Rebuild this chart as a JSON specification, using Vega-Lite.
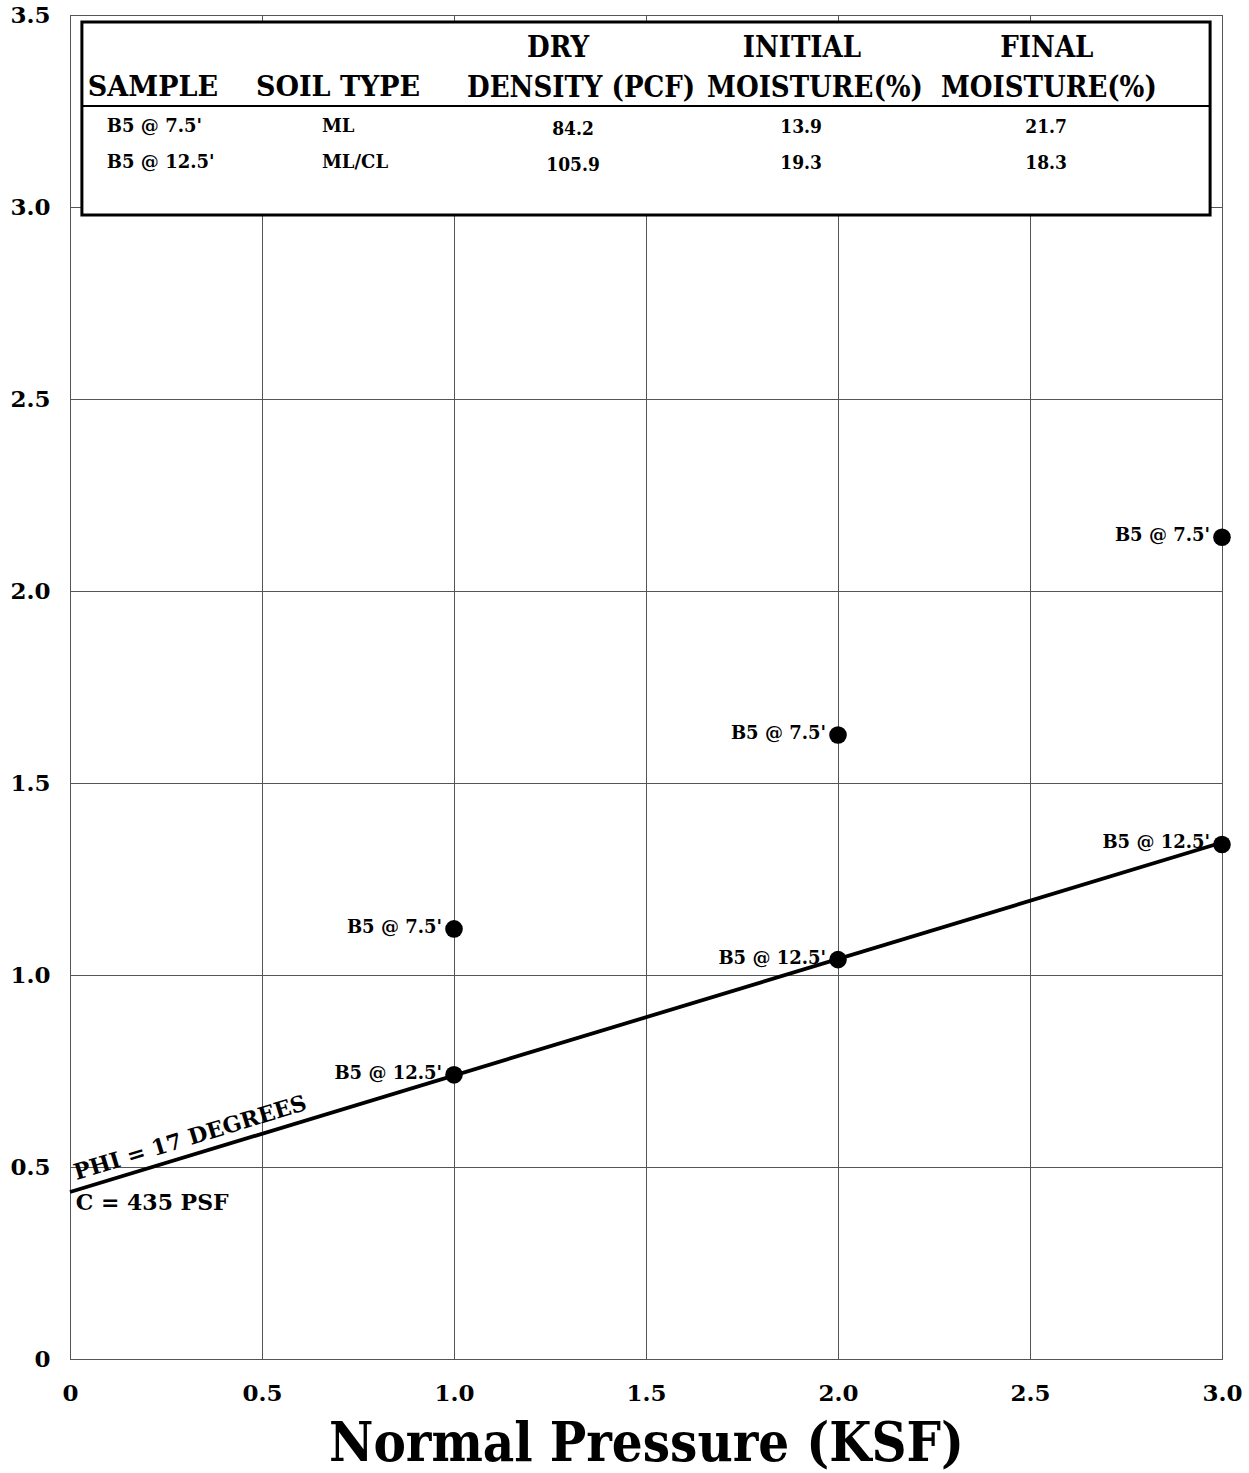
{
  "$schema": "https://vega.github.io/schema/vega-lite/v6.json",
  "width": 1152,
  "height": 1344,
  "autosize": {"type": "none"},
  "padding": {"left": 70, "top": 15, "right": 27, "bottom": 114},
  "background": "white",
  "config": {
    "view": {"stroke": "#555555", "strokeWidth": 1},
    "font": "DejaVu Serif",
    "axis": {
      "domainColor": "#555555",
      "gridColor": "#555555",
      "gridWidth": 1,
      "gridOpacity": 1,
      "ticks": false,
      "labelFont": "DejaVu Serif",
      "labelFontWeight": "bold",
      "labelFontSize": 23,
      "labelColor": "black",
      "labelFlush": false
    }
  },
  "datasets": {
    "points": [
      {"pressure": 1, "shear": 1.12, "sample": "B5 @ 7.5'"},
      {"pressure": 1, "shear": 0.74, "sample": "B5 @ 12.5'"},
      {"pressure": 2, "shear": 1.625, "sample": "B5 @ 7.5'"},
      {"pressure": 2, "shear": 1.04, "sample": "B5 @ 12.5'"},
      {"pressure": 3, "shear": 2.14, "sample": "B5 @ 7.5'"},
      {"pressure": 3, "shear": 1.34, "sample": "B5 @ 12.5'"}
    ],
    "fit": [
      {"pressure": 0, "shear": 0.435},
      {"pressure": 3, "shear": 1.345}
    ],
    "table": [
      {"sample": "B5 @ 7.5'", "soil": "ML", "density": "84.2", "initial": "13.9", "final": "21.7"},
      {"sample": "B5 @ 12.5'", "soil": "ML/CL", "density": "105.9", "initial": "19.3", "final": "18.3"}
    ],
    "one": [{}]
  },
  "layer": [
    {
      "data": {"name": "points"},
      "mark": {"type": "point", "opacity": 0},
      "encoding": {
        "x": {
          "field": "pressure", "type": "quantitative",
          "scale": {"domain": [0, 3], "nice": false, "zero": false},
          "axis": {
            "values": [0, 0.5, 1, 1.5, 2, 2.5, 3],
            "labelExpr": "datum.value == 0 ? '0' : format(datum.value, '.1f')",
            "labelPadding": 23,
            "title": "Normal Pressure (KSF)",
            "titleFont": "DejaVu Serif Condensed, DejaVu Serif",
            "titleFontWeight": "bold",
            "titleFontSize": 54,
            "titleColor": "black",
            "titlePadding": 12
          }
        },
        "y": {
          "field": "shear", "type": "quantitative",
          "scale": {"domain": [0, 3.5], "nice": false, "zero": false},
          "axis": {
            "values": [0, 0.5, 1, 1.5, 2, 2.5, 3, 3.5],
            "labelExpr": "datum.value == 0 ? '0' : format(datum.value, '.1f')",
            "labelPadding": 20,
            "title": null
          }
        }
      }
    },
    {
      "data": {"name": "fit"},
      "mark": {"type": "line", "color": "black", "strokeWidth": 3.8},
      "encoding": {
        "x": {"field": "pressure", "type": "quantitative"},
        "y": {"field": "shear", "type": "quantitative"}
      }
    },
    {
      "data": {"name": "points"},
      "mark": {"type": "point", "filled": true, "color": "black", "opacity": 1, "size": 310, "shape": "circle"},
      "encoding": {
        "x": {"field": "pressure", "type": "quantitative"},
        "y": {"field": "shear", "type": "quantitative"}
      }
    },
    {
      "data": {"name": "points"},
      "mark": {"type": "text", "align": "right", "baseline": "middle", "dx": -12, "dy": -1, "font": "DejaVu Serif", "fontWeight": "bold", "fontSize": 18, "color": "black"},
      "encoding": {
        "x": {"field": "pressure", "type": "quantitative"},
        "y": {"field": "shear", "type": "quantitative"},
        "text": {"field": "sample"}
      }
    },
    {
      "data": {"name": "one"},
      "mark": {"type": "text", "text": "PHI = 17 DEGREES", "align": "left", "baseline": "alphabetic", "angle": -17, "font": "DejaVu Serif", "fontWeight": "bold", "fontSize": 22, "color": "black"},
      "encoding": {"x": {"datum": 0.017}, "y": {"datum": 0.466}}
    },
    {
      "data": {"name": "one"},
      "mark": {"type": "text", "text": "C = 435 PSF", "align": "left", "baseline": "middle", "font": "DejaVu Serif", "fontWeight": "bold", "fontSize": 22, "color": "black"},
      "encoding": {"x": {"datum": 0.015}, "y": {"datum": 0.406}}
    },
    {
      "data": {"name": "one"},
      "mark": {"type": "rect", "fill": "white", "stroke": "black", "strokeWidth": 3},
      "encoding": {"x": {"datum": 0.031}, "x2": {"datum": 2.969}, "y": {"datum": 2.979}, "y2": {"datum": 3.482}}
    },
    {
      "data": {"name": "one"},
      "mark": {"type": "rule", "color": "black", "strokeWidth": 2},
      "encoding": {"x": {"datum": 0.031}, "x2": {"datum": 2.969}, "y": {"datum": 3.263}}
    },
    {
      "data": {"name": "one"},
      "mark": {"type": "text", "text": "SAMPLE", "align": "center", "baseline": "middle", "font": "DejaVu Serif", "fontWeight": "bold", "fontSize": 27, "color": "black"},
      "encoding": {"x": {"datum": 0.216}, "y": {"datum": 3.31}}
    },
    {
      "data": {"name": "one"},
      "mark": {"type": "text", "text": "SOIL TYPE", "align": "center", "baseline": "middle", "font": "DejaVu Serif", "fontWeight": "bold", "fontSize": 27, "color": "black"},
      "encoding": {"x": {"datum": 0.698}, "y": {"datum": 3.31}}
    },
    {
      "data": {"name": "one"},
      "mark": {"type": "text", "text": "DRY", "align": "center", "baseline": "middle", "font": "DejaVu Serif Condensed, DejaVu Serif", "fontWeight": "bold", "fontSize": 29, "color": "black"},
      "encoding": {"x": {"datum": 1.271}, "y": {"datum": 3.414}}
    },
    {
      "data": {"name": "one"},
      "mark": {"type": "text", "text": "DENSITY (PCF)", "align": "center", "baseline": "middle", "font": "DejaVu Serif Condensed, DejaVu Serif", "fontWeight": "bold", "fontSize": 29, "color": "black"},
      "encoding": {"x": {"datum": 1.331}, "y": {"datum": 3.31}}
    },
    {
      "data": {"name": "one"},
      "mark": {"type": "text", "text": "INITIAL", "align": "center", "baseline": "middle", "font": "DejaVu Serif Condensed, DejaVu Serif", "fontWeight": "bold", "fontSize": 29, "color": "black"},
      "encoding": {"x": {"datum": 1.906}, "y": {"datum": 3.414}}
    },
    {
      "data": {"name": "one"},
      "mark": {"type": "text", "text": "MOISTURE(%)", "align": "center", "baseline": "middle", "font": "DejaVu Serif Condensed, DejaVu Serif", "fontWeight": "bold", "fontSize": 29, "color": "black"},
      "encoding": {"x": {"datum": 1.94}, "y": {"datum": 3.31}}
    },
    {
      "data": {"name": "one"},
      "mark": {"type": "text", "text": "FINAL", "align": "center", "baseline": "middle", "font": "DejaVu Serif Condensed, DejaVu Serif", "fontWeight": "bold", "fontSize": 29, "color": "black"},
      "encoding": {"x": {"datum": 2.544}, "y": {"datum": 3.414}}
    },
    {
      "data": {"name": "one"},
      "mark": {"type": "text", "text": "MOISTURE(%)", "align": "center", "baseline": "middle", "font": "DejaVu Serif Condensed, DejaVu Serif", "fontWeight": "bold", "fontSize": 29, "color": "black"},
      "encoding": {"x": {"datum": 2.549}, "y": {"datum": 3.31}}
    },
    {
      "data": {"name": "table"},
      "transform": [{"filter": "datum.sample == \"B5 @ 7.5'\""}],
      "mark": {"type": "text", "align": "left", "baseline": "middle", "font": "DejaVu Serif", "fontWeight": "bold", "fontSize": 18, "color": "black"},
      "encoding": {"x": {"datum": 0.096}, "y": {"datum": 3.208}, "text": {"field": "sample"}}
    },
    {
      "data": {"name": "table"},
      "transform": [{"filter": "datum.sample == \"B5 @ 12.5'\""}],
      "mark": {"type": "text", "align": "left", "baseline": "middle", "font": "DejaVu Serif", "fontWeight": "bold", "fontSize": 18, "color": "black"},
      "encoding": {"x": {"datum": 0.096}, "y": {"datum": 3.114}, "text": {"field": "sample"}}
    },
    {
      "data": {"name": "table"},
      "transform": [{"filter": "datum.sample == \"B5 @ 7.5'\""}],
      "mark": {"type": "text", "align": "left", "baseline": "middle", "font": "DejaVu Serif", "fontWeight": "bold", "fontSize": 18, "color": "black"},
      "encoding": {"x": {"datum": 0.656}, "y": {"datum": 3.208}, "text": {"field": "soil"}}
    },
    {
      "data": {"name": "table"},
      "transform": [{"filter": "datum.sample == \"B5 @ 12.5'\""}],
      "mark": {"type": "text", "align": "left", "baseline": "middle", "font": "DejaVu Serif", "fontWeight": "bold", "fontSize": 18, "color": "black"},
      "encoding": {"x": {"datum": 0.656}, "y": {"datum": 3.114}, "text": {"field": "soil"}}
    },
    {
      "data": {"name": "table"},
      "transform": [{"filter": "datum.sample == \"B5 @ 7.5'\""}],
      "mark": {"type": "text", "align": "center", "baseline": "middle", "font": "DejaVu Serif Condensed, DejaVu Serif", "fontWeight": "bold", "fontSize": 19, "color": "black"},
      "encoding": {"x": {"datum": 1.31}, "y": {"datum": 3.203}, "text": {"field": "density"}}
    },
    {
      "data": {"name": "table"},
      "transform": [{"filter": "datum.sample == \"B5 @ 12.5'\""}],
      "mark": {"type": "text", "align": "center", "baseline": "middle", "font": "DejaVu Serif Condensed, DejaVu Serif", "fontWeight": "bold", "fontSize": 19, "color": "black"},
      "encoding": {"x": {"datum": 1.31}, "y": {"datum": 3.109}, "text": {"field": "density"}}
    },
    {
      "data": {"name": "table"},
      "transform": [{"filter": "datum.sample == \"B5 @ 7.5'\""}],
      "mark": {"type": "text", "align": "center", "baseline": "middle", "font": "DejaVu Serif Condensed, DejaVu Serif", "fontWeight": "bold", "fontSize": 19, "color": "black"},
      "encoding": {"x": {"datum": 1.904}, "y": {"datum": 3.208}, "text": {"field": "initial"}}
    },
    {
      "data": {"name": "table"},
      "transform": [{"filter": "datum.sample == \"B5 @ 12.5'\""}],
      "mark": {"type": "text", "align": "center", "baseline": "middle", "font": "DejaVu Serif Condensed, DejaVu Serif", "fontWeight": "bold", "fontSize": 19, "color": "black"},
      "encoding": {"x": {"datum": 1.904}, "y": {"datum": 3.114}, "text": {"field": "initial"}}
    },
    {
      "data": {"name": "table"},
      "transform": [{"filter": "datum.sample == \"B5 @ 7.5'\""}],
      "mark": {"type": "text", "align": "center", "baseline": "middle", "font": "DejaVu Serif Condensed, DejaVu Serif", "fontWeight": "bold", "fontSize": 19, "color": "black"},
      "encoding": {"x": {"datum": 2.542}, "y": {"datum": 3.208}, "text": {"field": "final"}}
    },
    {
      "data": {"name": "table"},
      "transform": [{"filter": "datum.sample == \"B5 @ 12.5'\""}],
      "mark": {"type": "text", "align": "center", "baseline": "middle", "font": "DejaVu Serif Condensed, DejaVu Serif", "fontWeight": "bold", "fontSize": 19, "color": "black"},
      "encoding": {"x": {"datum": 2.542}, "y": {"datum": 3.114}, "text": {"field": "final"}}
    }
  ]
}
